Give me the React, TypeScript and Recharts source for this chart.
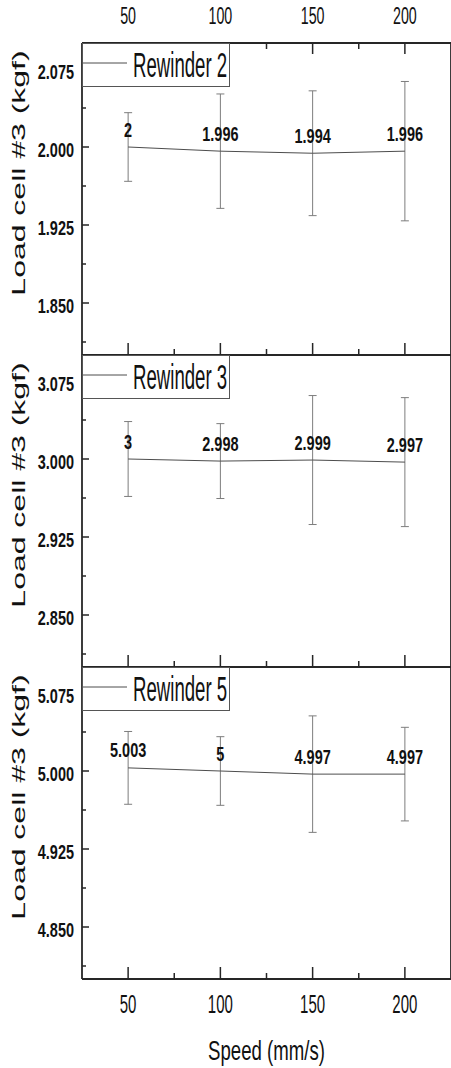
import { ErrorBar, LabelList, Legend, Line, LineChart, XAxis, YAxis } from "recharts";

const FONT = '"Liberation Sans", Arial, Helvetica, sans-serif';
const AXIS_COLOR = "#262626";
const LINE_COLOR = "#4d4d4d";
const ERR_COLOR = "#7d7d7d";

// shared x data
const speeds = [50, 100, 150, 200];
const xMajorTicks = [50, 100, 150, 200];
const xMinorTicks = [75, 125, 175];
const xDomain: [number, number] = [25, 225];

// Rewinder 2
const rewinder2Values = [2, 1.996, 1.994, 1.996];
const rewinder2Errors = [0.033, 0.055, 0.06, 0.067];
const rewinder2Major = [1.85, 1.925, 2.0, 2.075];
const rewinder2Minor = [1.8125, 1.8875, 1.9625, 2.0375];
const rewinder2Domain: [number, number] = [1.8, 2.1];

// Rewinder 3
const rewinder3Values = [3, 2.998, 2.999, 2.997];
const rewinder3Errors = [0.036, 0.036, 0.062, 0.062];
const rewinder3Major = [2.85, 2.925, 3.0, 3.075];
const rewinder3Minor = [2.8125, 2.8875, 2.9625, 3.0375];
const rewinder3Domain: [number, number] = [2.8, 3.1];

// Rewinder 5
const rewinder5Values = [5.003, 5, 4.997, 4.997];
const rewinder5Errors = [0.035, 0.033, 0.056, 0.045];
const rewinder5Major = [4.85, 4.925, 5.0, 5.075];
const rewinder5Minor = [4.8125, 4.8875, 4.9625, 5.0375];
const rewinder5Domain: [number, number] = [4.8, 5.1];

const CHART_W = 469;
const LEFT_W = 82;
const RIGHT_W = 18;
const PLOT_H = 312;

interface PanelDef {
  name: string;
  values: number[];
  errors: number[];
  major: number[];
  minor: number[];
  domain: [number, number];
  top: number;
  topGap: number;
  bottomGap: number;
  first: boolean;
  last: boolean;
}

const panels: PanelDef[] = [
  {
    name: "Rewinder 2",
    values: rewinder2Values,
    errors: rewinder2Errors,
    major: rewinder2Major,
    minor: rewinder2Minor,
    domain: rewinder2Domain,
    top: 0,
    topGap: 43,
    bottomGap: 20,
    first: true,
    last: false,
  },
  {
    name: "Rewinder 3",
    values: rewinder3Values,
    errors: rewinder3Errors,
    major: rewinder3Major,
    minor: rewinder3Minor,
    domain: rewinder3Domain,
    top: 335,
    topGap: 20,
    bottomGap: 20,
    first: false,
    last: false,
  },
  {
    name: "Rewinder 5",
    values: rewinder5Values,
    errors: rewinder5Errors,
    major: rewinder5Major,
    minor: rewinder5Minor,
    domain: rewinder5Domain,
    top: 647,
    topGap: 20,
    bottomGap: 89,
    first: false,
    last: true,
  },
];

const isIn = (list: number[], v: number) =>
  list.some((m) => Math.abs(m - v) < 1e-6);

function BottomTick(props: any) {
  const { x, y, payload, withLabel } = props;
  const major = isIn(xMajorTicks, payload.value);
  return (
    <g>
      <line
        x1={x}
        x2={x}
        y1={y}
        y2={y - (major ? 12 : 6)}
        stroke={AXIS_COLOR}
        strokeWidth={1.5}
      />
      {withLabel && major && (
        <text
          transform={`translate(${x},${y + 33.5}) scale(0.6,1)`}
          textAnchor="middle"
          fontSize={25}
          fontFamily={FONT}
          fill="#111"
        >
          {payload.value}
        </text>
      )}
    </g>
  );
}

function TopTick(props: any) {
  const { x, y, payload } = props;
  const major = isIn(xMajorTicks, payload.value);
  return (
    <g>
      <line
        x1={x}
        x2={x}
        y1={y}
        y2={y + (major ? 11 : 6)}
        stroke={AXIS_COLOR}
        strokeWidth={1.5}
      />
      {major && (
        <text
          transform={`translate(${x},${y - 19}) scale(0.62,1)`}
          textAnchor="middle"
          fontSize={23}
          fontFamily={FONT}
          fill="#111"
        >
          {payload.value}
        </text>
      )}
    </g>
  );
}

function LeftTick(props: any) {
  const { x, y, payload, major } = props;
  const isMajor = isIn(major, payload.value);
  return (
    <g>
      <line
        x1={x}
        x2={x + (isMajor ? 7 : 4)}
        y1={y}
        y2={y}
        stroke={AXIS_COLOR}
        strokeWidth={1.5}
      />
      {isMajor && (
        <text
          transform={`translate(${x - 8},${y + 9.5}) scale(0.69,1)`}
          textAnchor="end"
          fontSize={21}
          fontWeight="bold"
          fontFamily={FONT}
          fill="#111"
        >
          {Number(payload.value).toFixed(3)}
        </text>
      )}
    </g>
  );
}

function RightTick(props: any) {
  const { x, y, payload, major } = props;
  const isMajor = isIn(major, payload.value);
  return (
    <line
      x1={x}
      x2={x - (isMajor ? 7 : 4)}
      y1={y}
      y2={y}
      stroke={AXIS_COLOR}
      strokeWidth={1.5}
    />
  );
}

function PointLabel(props: any) {
  const { x, y, value } = props;
  if (x == null || y == null) return null;
  return (
    <text
      transform={`translate(${x},${y - 10.5}) scale(0.69,1)`}
      textAnchor="middle"
      fontSize={21}
      fontWeight="bold"
      fontFamily={FONT}
      fill="#111"
    >
      {String(value)}
    </text>
  );
}

function YTitle({ centerY }: { centerY: number }) {
  return (
    <text
      transform={`translate(25,${centerY}) scale(0.58,1) rotate(-90)`}
      textAnchor="middle"
      fontSize={32}
      fontFamily={FONT}
      fill="#111"
    >
      Load cell #3 (kgf)
    </text>
  );
}

function XTitle({ centerX, baseY }: { centerX: number; baseY: number }) {
  return (
    <text
      transform={`translate(${centerX},${baseY}) scale(0.665,1)`}
      textAnchor="middle"
      fontSize={28}
      fontFamily={FONT}
      fill="#111"
    >
      Speed (mm/s)
    </text>
  );
}

function LegendBox({ name }: { name: string }) {
  return (
    <svg width={148} height={44} style={{ display: "block" }}>
      <rect x={0.5} y={0.5} width={147} height={43} fill="#fff" stroke="#555" strokeWidth={1} />
      <line x1={1} x2={45} y1={20} y2={20} stroke={LINE_COLOR} strokeWidth={1} />
      <text
        transform="translate(51,34) scale(0.54,1)"
        fontSize={34.5}
        fontFamily={FONT}
        fill="#111"
      >
        {name}
      </text>
    </svg>
  );
}

function Panel({ p }: { p: PanelDef }) {
  const rows = speeds.map((s, i) => ({ speed: s, v: p.values[i], e: p.errors[i] }));
  const yTicks = [...p.minor, ...p.major].sort((a, b) => a - b);
  const xTicks = [...xMajorTicks, ...xMinorTicks].sort((a, b) => a - b);
  const height = p.topGap + PLOT_H + p.bottomGap;
  const plotRight = CHART_W - RIGHT_W;
  const axisLine = { stroke: AXIS_COLOR, strokeWidth: 1.8 };

  return (
    <div style={{ position: "absolute", left: 0, top: p.top, width: CHART_W, height }}>
      <LineChart
        width={CHART_W}
        height={height}
        data={rows}
        margin={{ top: p.first ? 0 : p.topGap, right: 0, bottom: 0, left: 0 }}
      >
        {p.first && (
          <XAxis
            xAxisId="t"
            orientation="top"
            type="number"
            dataKey="speed"
            domain={xDomain}
            ticks={xTicks}
            interval={0}
            height={p.topGap}
            tickSize={0}
            tickMargin={0}
            axisLine={axisLine}
            tick={<TopTick />}
          />
        )}
        <XAxis
          xAxisId="b"
          type="number"
          dataKey="speed"
          domain={xDomain}
          ticks={xTicks}
          interval={0}
          height={p.bottomGap}
          tickSize={0}
          tickMargin={0}
          axisLine={axisLine}
          tick={<BottomTick withLabel={p.last} />}
          label={
            p.last ? (
              <XTitle centerX={(LEFT_W + plotRight) / 2} baseY={p.topGap + PLOT_H + 81} />
            ) : undefined
          }
        />
        <YAxis
          yAxisId="l"
          type="number"
          domain={p.domain}
          ticks={yTicks}
          interval={0}
          width={LEFT_W}
          tickSize={0}
          tickMargin={0}
          axisLine={axisLine}
          tick={<LeftTick major={p.major} />}
          label={<YTitle centerY={p.topGap + PLOT_H / 2 - 26} />}
        />
        <YAxis
          yAxisId="r"
          orientation="right"
          type="number"
          domain={p.domain}
          ticks={yTicks}
          interval={0}
          width={RIGHT_W}
          tickSize={0}
          tickMargin={0}
          axisLine={axisLine}
          tick={<RightTick major={p.major} />}
        />
        <Legend
          layout="horizontal"
          verticalAlign="middle"
          align="center"
          wrapperStyle={{
            position: "absolute",
            top: p.topGap,
            left: LEFT_W,
            width: 148,
            height: 44,
            margin: 0,
            lineHeight: 0,
          }}
          content={() => <LegendBox name={p.name} />}
        />
        <Line
          xAxisId="b"
          yAxisId="l"
          type="linear"
          dataKey="v"
          stroke={LINE_COLOR}
          strokeWidth={1}
          dot={false}
          isAnimationActive={false}
        >
          <ErrorBar
            dataKey="e"
            direction="y"
            width={4}
            stroke={ERR_COLOR}
            strokeWidth={1}
            isAnimationActive={false}
          />
          <LabelList dataKey="v" content={<PointLabel />} />
        </Line>
      </LineChart>
    </div>
  );
}

export default function App() {
  return (
    <div
      style={{
        position: "absolute",
        left: 0,
        top: 0,
        width: 451,
        height: 1068,
        overflow: "hidden",
        background: "#fff",
      }}
    >
      {panels.map((p) => (
        <Panel key={p.name} p={p} />
      ))}
    </div>
  );
}
